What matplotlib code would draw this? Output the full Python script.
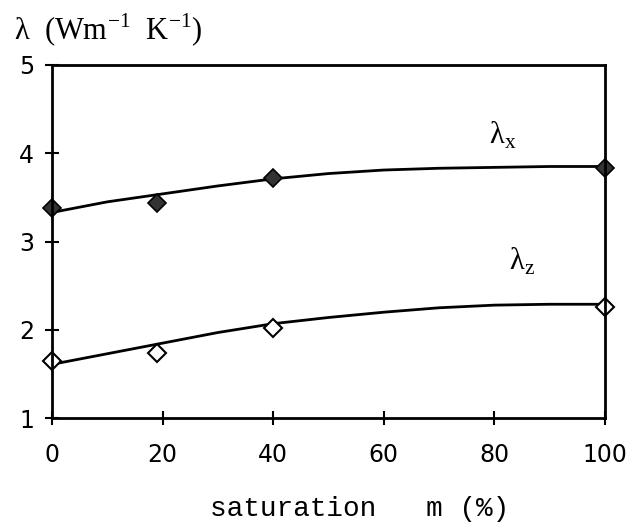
import numpy as np
import matplotlib.pyplot as plt

# measured points
sat = [0, 19, 40, 100]
lam_x = [3.38, 3.44, 3.72, 3.83]
lam_z = [1.65, 1.74, 2.02, 2.26]

# fitted curves
fit_sat = [0, 10, 20, 30, 40, 50, 60, 70, 80, 90, 100]
fit_x = [3.33, 3.45, 3.54, 3.63, 3.71, 3.77, 3.81, 3.83, 3.84, 3.85, 3.85]
fit_z = [1.61, 1.73, 1.85, 1.97, 2.07, 2.14, 2.20, 2.25, 2.28, 2.29, 2.29]

xticks = [0, 20, 40, 60, 80, 100]
yticks = [1, 2, 3, 4, 5]

fig = plt.figure(figsize=(6.44, 5.28), dpi=100)
ax = fig.add_axes([0.081, 0.208, 0.858, 0.669])

ax.plot(fit_sat, fit_x, "k-", lw=2)
ax.plot(fit_sat, fit_z, "k-", lw=2)
ax.plot(sat, lam_x, "D", ms=9, mfc="#333333", mec="black", mew=1.2, clip_on=False)
ax.plot(sat, lam_z, "D", ms=9, mfc="white", mec="black", mew=1.5, clip_on=False)

ax.text(81.5, 4.2, "λ$_{\\mathregular{x}}$", fontsize=22, family="Liberation Serif",
        ha="center", va="center")
ax.text(85, 2.78, "λ$_{\\mathregular{z}}$", fontsize=22, family="Liberation Serif",
        ha="center", va="center")

ax.set_xlim(0, 100)
ax.set_ylim(1, 5)
ax.set_xticks(xticks)
ax.set_yticks(yticks)
ax.tick_params(direction="inout", length=10, width=1.5, labelsize=17)
ax.tick_params(axis="x", pad=13)
ax.tick_params(axis="y", pad=8)
for s in ax.spines.values():
    s.set_linewidth(2)

fig.text(0.022, 0.943, "λ  (Wm$^{\\mathregular{-1}}$  K$^{\\mathregular{-1}}$)", fontsize=22,
         family="Liberation Serif", ha="left", va="center")
fig.text(0.558, 0.036, "saturation   m (%)", fontsize=20,
         family="Liberation Mono", ha="center", va="center")

fig.savefig("out.png", dpi=100)
